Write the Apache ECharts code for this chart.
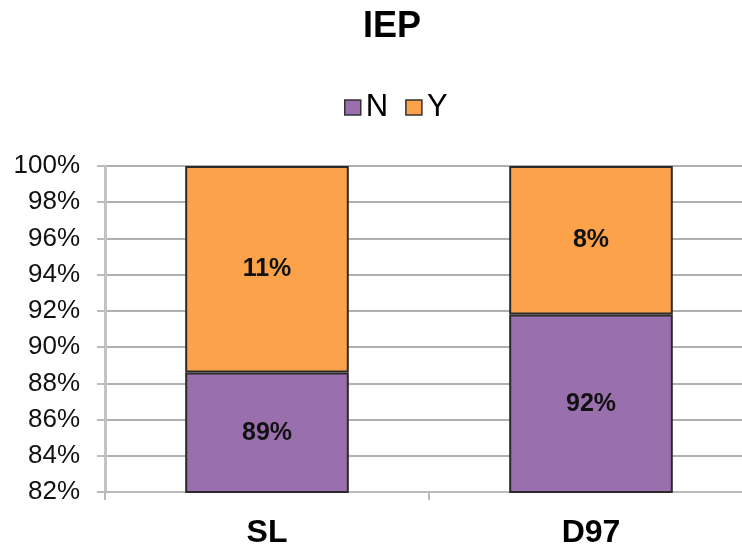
<!DOCTYPE html>
<html>
<head>
<meta charset="utf-8">
<script src="https://cdn.jsdelivr.net/npm/echarts@6/dist/echarts.min.js"></script>
<style>
html,body{margin:0;padding:0;background:#fff;}
#main{width:742px;height:548px;}
</style>
</head>
<body>
<div id="main"></div>
<script>
var categories = ['SL', 'D97'];
var seriesN = [88.6, 91.8];
var seriesY = [11.4, 8.2];
var labelsN = ['89%', '92%'];
var labelsY = ['11%', '8%'];

var chart = echarts.init(document.getElementById('main'));
var option = {
    backgroundColor: '#fff',
    title: {
        text: 'IEP',
        left: 387,
        top: 4,
        textAlign: 'center',
        textStyle: { fontFamily: 'Liberation Sans', fontSize: 36, fontWeight: 'bold', color: '#000' }
    },
    legend: {
        top: 87,
        left: 339,
        icon: 'rect',
        itemWidth: 16,
        itemHeight: 15,
        itemGap: 17,
        data: ['N', 'Y'],
        itemStyle: { borderColor: '#333', borderWidth: 1.5 },
        textStyle: { fontFamily: 'Liberation Sans', fontSize: 31, color: '#000', padding: [6, 0, 0, 0] }
    },
    grid: { left: 105, width: 648, top: 166, bottom: 56, outerBoundsMode: 'none' },
    xAxis: {
        type: 'category',
        data: categories,
        axisLine: { lineStyle: { color: '#bbb', width: 2 } },
        axisTick: { show: true, length: 8, lineStyle: { color: '#bbb', width: 2 } },
        axisLabel: { fontFamily: 'Liberation Sans', fontSize: 32, fontWeight: 'bold', color: '#000', margin: 25 }
    },
    yAxis: {
        type: 'value',
        min: 82,
        max: 100,
        interval: 2,
        axisLine: { show: true, lineStyle: { color: '#c4c4c4', width: 3 } },
        axisTick: { show: true, length: 8, lineStyle: { color: '#bbb', width: 2 } },
        splitLine: { lineStyle: { color: '#b0b0b0', width: 2 } },
        axisLabel: {
            fontFamily: 'Liberation Sans', fontSize: 26, color: '#111', margin: 25,
            formatter: function (v) { return v + '%'; }
        }
    },
    series: [
        {
            name: 'N',
            type: 'bar',
            stack: 'total',
            barWidth: '50.5%',
            data: seriesN,
            itemStyle: { color: '#9a6fae', borderColor: '#2a2a2a', borderWidth: 2 },
            label: {
                show: true, position: 'inside',
                fontFamily: 'Liberation Sans', fontSize: 25, fontWeight: 'bold', color: '#111',
                formatter: function (p) { return labelsN[p.dataIndex]; }
            }
        },
        {
            name: 'Y',
            type: 'bar',
            stack: 'total',
            data: seriesY,
            itemStyle: { color: '#fba24b', borderColor: '#2a2a2a', borderWidth: 2 },
            label: {
                show: true, position: 'inside',
                fontFamily: 'Liberation Sans', fontSize: 25, fontWeight: 'bold', color: '#111',
                formatter: function (p) { return labelsY[p.dataIndex]; }
            }
        }
    ]
};
option && chart.setOption(option);
</script>
</body>
</html>
